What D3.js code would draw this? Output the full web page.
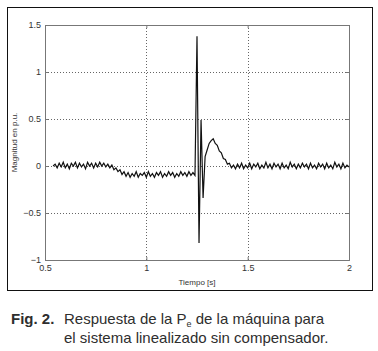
<!DOCTYPE html>
<html>
<head>
<meta charset="UTF-8">
<title>Respuesta Pe</title>
<script src="https://cdn.jsdelivr.net/npm/d3@7"></script>
<style>
  body { margin: 0; background: #fff; }
  svg text { font-family: "Liberation Sans", Arial, sans-serif; }
</style>
</head>
<body>
<div id="app"></div>
<script>
// muestreo de la senal: t = T0 + i*DT
var T0 = 0.54, DT = 0.01;
// valores (p.u.)
var valores = [
  0.00, 0.02, -0.02, 0.03, -0.01, 0.04, -0.02, 0.02, -0.03, 0.03,
  0.00, 0.04, -0.02, 0.03, -0.01, 0.02, -0.03, 0.04, 0.00, 0.03,
  -0.02, 0.03, -0.01, 0.04, 0.00, 0.03, -0.01,
  0.02, -0.02, 0.01, -0.04, -0.02, -0.06, -0.04, -0.09, -0.06, -0.11,
  -0.07, -0.12, -0.08, -0.11, -0.06, -0.12, -0.08, -0.10, -0.07, -0.12,
  -0.06, -0.11, -0.08, -0.12, -0.07, -0.10, -0.06, -0.12, -0.08, -0.11,
  -0.06, -0.10, -0.07, -0.12, -0.08, -0.11, -0.06, -0.10, -0.07, -0.11,
  -0.06, -0.10, -0.07, -0.10,
  1.38, -0.82, 0.49, -0.34, 0.10, 0.17, 0.24, 0.27, 0.29, 0.24,
  0.22, 0.16, 0.14, 0.08, 0.07, 0.02, 0.03, -0.02,
  0.01, -0.03, 0.02, -0.02, 0.03, -0.03, 0.01, -0.02, 0.03, -0.03,
  0.02, -0.01, 0.03, -0.03, 0.01, -0.02, 0.04, -0.02, 0.02, -0.03,
  0.03, -0.01, 0.02, -0.03, 0.03, -0.02, 0.01, -0.03, 0.04, -0.01,
  0.02, -0.03, 0.02, -0.02, 0.03, -0.01, 0.02, -0.03, 0.03, -0.02,
  0.01, -0.03, 0.03, -0.01, 0.02, -0.03, 0.03, -0.02, 0.01, -0.03,
  0.04, -0.01, 0.02, -0.03, 0.03, -0.02, 0.01, -0.01
];
var xTicks = [0.5, 1, 1.5, 2];
var yTicks = [-1, -0.5, 0, 0.5, 1, 1.5];

var W = 378, H = 351;
var mLeft = 45, mRight = 349, mTop = 25, mBottom = 260;

var svg = d3.select('#app').append('svg')
    .attr('width', W).attr('height', H);

// marco exterior
svg.append('rect')
    .attr('x', 7.5).attr('y', 7.5)
    .attr('width', 365).attr('height', 283)
    .attr('fill', 'none').attr('stroke', '#111').attr('stroke-width', 1);

var x = d3.scaleLinear().domain([0.5, 2]).range([mLeft, mRight]);
var y = d3.scaleLinear().domain([-1, 1.5]).range([mBottom, mTop]);

// rejilla punteada
var grid = svg.append('g');
grid.selectAll('.gx').data(xTicks.slice(1, -1)).enter().append('line')
    .attr('x1', function(d){ return Math.round(x(d)) + 0.5; })
    .attr('x2', function(d){ return Math.round(x(d)) + 0.5; })
    .attr('y1', mTop).attr('y2', mBottom)
    .attr('stroke', '#666').attr('stroke-dasharray', '1,2');
grid.selectAll('.gy').data(yTicks.slice(1, -1)).enter().append('line')
    .attr('y1', function(d){ return Math.round(y(d)) + 0.5; })
    .attr('y2', function(d){ return Math.round(y(d)) + 0.5; })
    .attr('x1', mLeft).attr('x2', mRight)
    .attr('stroke', '#666').attr('stroke-dasharray', '1,2');

// ejes (ticks hacia adentro)
var ax = svg.append('g').attr('transform', 'translate(0,' + mBottom + ')')
    .call(d3.axisBottom(x).tickValues(xTicks).tickSize(-3).tickPadding(5)
      .tickFormat(d3.format('')));
var ay = svg.append('g').attr('transform', 'translate(' + mLeft + ',0)')
    .call(d3.axisLeft(y).tickValues(yTicks).tickSize(-3).tickPadding(4)
      .tickFormat(d3.format('')));
var axt = svg.append('g').attr('transform', 'translate(0,' + mTop + ')')
    .call(d3.axisTop(x).tickValues(xTicks).tickSize(-3).tickFormat(''));
var ayr = svg.append('g').attr('transform', 'translate(' + mRight + ',0)')
    .call(d3.axisRight(y).tickValues(yTicks).tickSize(-3).tickFormat(''));

[ax, ay, axt, ayr].forEach(function(g){
  g.select('.domain').attr('stroke', '#777');
  g.selectAll('.tick line').attr('stroke', '#777');
  g.selectAll('text').attr('fill', '#333').attr('font-size', 9)
    .attr('font-family', '"Liberation Sans", Arial, sans-serif');
});

// senal
var linea = d3.line()
    .x(function(d, i){ return x(T0 + i * DT); })
    .y(function(d){ return y(d); });
svg.append('path')
    .datum(valores)
    .attr('d', linea)
    .attr('fill', 'none')
    .attr('stroke', '#111')
    .attr('stroke-width', 1.2);

// titulos de ejes
svg.append('text')
    .attr('x', (mLeft + mRight) / 2).attr('y', 285)
    .attr('text-anchor', 'middle').attr('font-size', 8).attr('fill', '#333')
    .text('Tiempo [s]');
svg.append('text')
    .attr('transform', 'translate(17,' + (mTop + mBottom) / 2 + ') rotate(-90)')
    .attr('text-anchor', 'middle').attr('font-size', 8).attr('fill', '#333')
    .text('Magnitud en p.u.');

// leyenda de la figura
var cap = svg.append('g').attr('fill', '#2e2e2e').attr('font-size', 15);
cap.append('text').attr('x', 11).attr('y', 324)
    .attr('font-weight', 'bold').text('Fig. 2.');
var l1 = cap.append('text').attr('x', 64).attr('y', 324);
l1.append('tspan').text('Respuesta de la P');
l1.append('tspan').attr('font-size', 9).attr('dy', 3).text('e');
l1.append('tspan').attr('dy', -3).text(' de la máquina para');
cap.append('text').attr('x', 64).attr('y', 343)
    .text('el sistema linealizado sin compensador.');
</script>
</body>
</html>
